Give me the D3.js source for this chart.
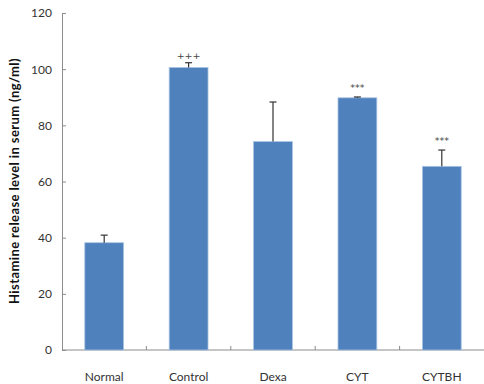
<!DOCTYPE html>
<html>
<head>
<meta charset="utf-8">
<script src="https://cdn.jsdelivr.net/npm/d3@7"></script>
<style>
  html, body { margin: 0; padding: 0; background: #fff; }
  svg { display: block; font-family: Lato, "Open Sans", sans-serif; }
</style>
</head>
<body>
<svg id="chart" width="484" height="384"></svg>
<script>
// Histamine release per group (mean, SEM) with significance marks
const groups = ["Normal", "Control", "Dexa", "CYT", "CYTBH"];
const means = [38.2, 100.6, 74.2, 89.8, 65.4];
const errors = [2.7, 1.7, 14.1, 0.3, 5.8];
const marks = ["", "+++", "", "***", "***"];
const yTicks = [0, 20, 40, 60, 80, 100, 120];

const svg = d3.select("#chart");
const margin = { left: 62, top: 13, right: 0, bottom: 34 };
const W = 484, H = 384;
const axisColor = "#8c8c8c";

const x = d3.scaleBand().domain(groups)
  .range([margin.left, W - margin.right])
  .paddingInner(0.54).paddingOuter(0.27);
const y = d3.scaleLinear().domain([0, 120]).range([H - margin.bottom, margin.top]);

// Y axis: ticks point into the plot, labels sit to the left
const yAxis = svg.append("g")
  .attr("transform", `translate(${margin.left},0)`)
  .call(d3.axisLeft(y).tickValues(yTicks).tickSizeInner(-4).tickSizeOuter(0).tickPadding(10));
yAxis.select(".domain").attr("stroke", axisColor);
yAxis.selectAll(".tick line").attr("stroke", axisColor);
yAxis.selectAll(".tick text").attr("font-size", 12).attr("fill", "#333")
  .attr("font-family", "Lato, sans-serif");

// X axis with ticks between categories
const xAxisG = svg.append("g").attr("transform", `translate(0,${y(0)})`);
xAxisG.append("line")
  .attr("x1", margin.left).attr("x2", W)
  .attr("stroke", axisColor);
const step = x.step();
groups.slice(1).forEach(g => {
  const bx = x(g) - (step - x.bandwidth()) / 2;
  xAxisG.append("line").attr("x1", bx).attr("x2", bx)
    .attr("y1", 0).attr("y2", -4).attr("stroke", axisColor);
});
xAxisG.selectAll("text.cat").data(groups).join("text")
  .attr("class", "cat")
  .attr("x", d => x(d) + x.bandwidth() / 2)
  .attr("y", 31)
  .attr("text-anchor", "middle")
  .attr("font-size", 12)
  .attr("fill", "#333")
  .text(d => d);

// Bars
svg.append("g").selectAll("rect").data(groups).join("rect")
  .attr("x", d => x(d))
  .attr("y", (d, i) => y(means[i]))
  .attr("width", x.bandwidth())
  .attr("height", (d, i) => y(0) - y(means[i]))
  .attr("fill", "#4f81bd")
  .attr("stroke", "#a9c3e3")
  .attr("stroke-width", 0.8);

// Error bars (upper only)
const eb = svg.append("g").attr("stroke", "#333").attr("stroke-width", 1.2);
groups.forEach((g, i) => {
  const cx = x(g) + x.bandwidth() / 2;
  eb.append("line").attr("x1", cx).attr("x2", cx)
    .attr("y1", y(means[i])).attr("y2", y(means[i] + errors[i]));
  eb.append("line").attr("x1", cx - 3.5).attr("x2", cx + 3.5)
    .attr("y1", y(means[i] + errors[i])).attr("y2", y(means[i] + errors[i]));
});

// Significance marks
svg.append("g").selectAll("text").data(groups).join("text")
  .attr("x", d => x(d) + x.bandwidth() / 2)
  .attr("y", (d, i) => y(means[i] + errors[i]) - (marks[i] === "+++" ? 4 : 6))
  .attr("text-anchor", "middle")
  .attr("font-family", "DejaVu Sans, sans-serif")
  .attr("font-size", 9.5)
  .attr("fill", "#444")
  .text((d, i) => marks[i]);

// Y axis title
svg.append("text")
  .attr("transform", `translate(19,181) rotate(-90)`)
  .attr("text-anchor", "middle")
  .attr("font-size", 13)
  .attr("font-weight", "bold")
  .attr("letter-spacing", 0.4)
  .attr("fill", "#111")
  .text("Histamine release level in serum (ng/ml)");
</script>
</body>
</html>
